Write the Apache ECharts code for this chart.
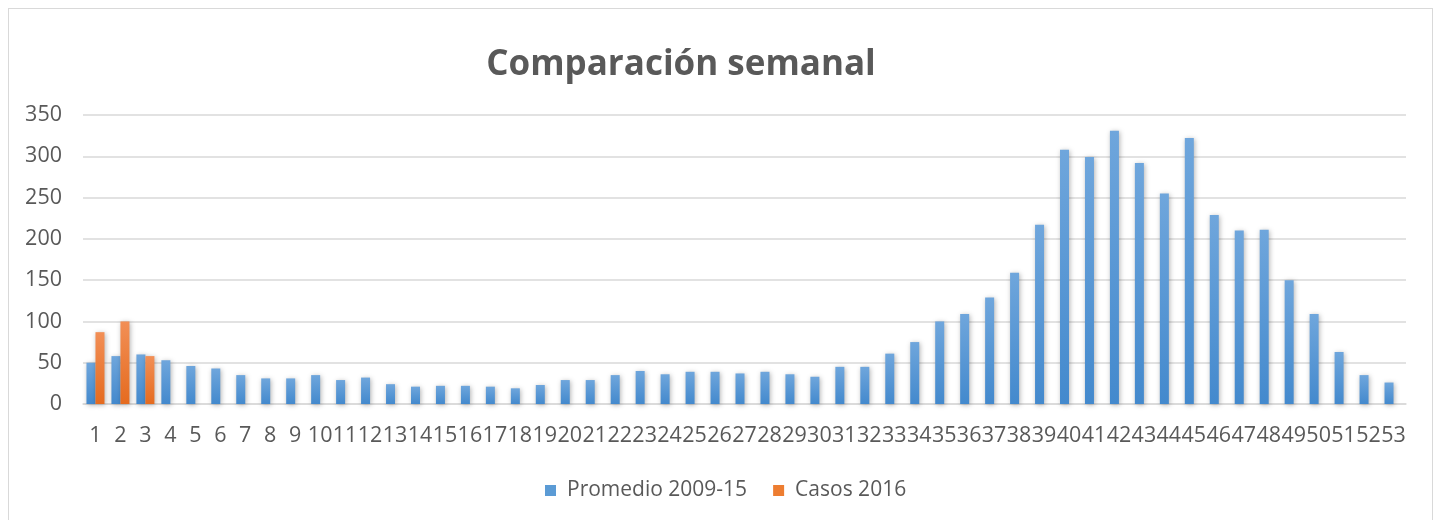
<!DOCTYPE html>
<html>
<head>
<meta charset="utf-8">
<script src="https://cdn.jsdelivr.net/npm/echarts@6/dist/echarts.min.js"></script>
<style>
html,body{margin:0;padding:0;background:#fff;}
#frame{position:absolute;left:8px;top:8px;width:1425px;height:520px;border:1px solid #d9d9d9;box-sizing:border-box;}
#chart{position:absolute;left:0;top:0;width:1439px;height:520px;}
</style>
</head>
<body>
<div id="frame"></div>
<div id="chart"></div>
<script>
const weeks = ["1","2","3","4","5","6","7","8","9","10","11","12","13","14","15","16","17","18","19","20","21","22","23","24","25","26","27","28","29","30","31","32","33","34","35","36","37","38","39","40","41","42","43","44","45","46","47","48","49","50","51","52","53"];
const promedio = [50,58,60,53,46,43,35,31,31,35,29,32,24,21,22,22,21,19,23,29,29,35,40,36,39,39,37,39,36,33,45,45,61,75,100,109,129,159,217,308,299,331,292,255,322,229,210,211,150,109,63,35,26];
const casos2016 = [87,100,58];
const yTicks = {min:0, max:350, interval:50};
const seriesNames = ["Promedio 2009-15","Casos 2016"];

const chart = echarts.init(document.getElementById('chart'));
const txt = '#595959';
function grad(top, bottom){
  return new echarts.graphic.LinearGradient(0,0,0,1,[{offset:0,color:top},{offset:1,color:bottom}]);
}
chart.setOption({
  animation:false,
  title:{text:'Comparación semanal', left:676, top:43, textAlign:'center',
    textStyle:{fontFamily:'Open Sans', fontWeight:'bold', fontSize:35, color:txt}},
  legend:{bottom:14, left:540, itemWidth:11, itemHeight:11, itemGap:26,
    textStyle:{fontFamily:'Open Sans', fontSize:21, color:txt, padding:[0,0,0,6]},
    data:[{name:seriesNames[0], icon:'rect', itemStyle:{color:'#5b9bd5'}},{name:seriesNames[1], icon:'rect', itemStyle:{color:'#ed7d31'}}]},
  grid:{left:83, right:33, top:115, bottom:116},
  xAxis:{type:'category', data:weeks,
    axisLine:{lineStyle:{color:'#d9d9d9', width:1.5}}, axisTick:{show:false},
    axisLabel:{interval:0, hideOverlap:false, color:txt, fontFamily:'Open Sans', fontSize:21.5, margin:21}},
  yAxis:{type:'value', min:yTicks.min, max:yTicks.max, interval:yTicks.interval,
    axisLine:{show:false}, axisTick:{show:false},
    splitLine:{lineStyle:{color:'#d9d9d9', width:1.5}},
    axisLabel:{color:txt, fontFamily:'Open Sans', fontSize:21.5, margin:21}},
  series:[
    {name:seriesNames[0], type:'bar', data:promedio, barWidth:9, barGap:'0%',
      itemStyle:{color:grad('#6fa6dc','#4389cd'), shadowColor:'rgba(0,0,0,0.3)', shadowBlur:5, shadowOffsetX:1, shadowOffsetY:1}},
    {name:seriesNames[1], type:'bar', data:casos2016, barWidth:9,
      itemStyle:{color:grad('#f28f56','#e56b1f'), shadowColor:'rgba(0,0,0,0.3)', shadowBlur:5, shadowOffsetX:1, shadowOffsetY:1}}
  ]
});
</script>
</body>
</html>
